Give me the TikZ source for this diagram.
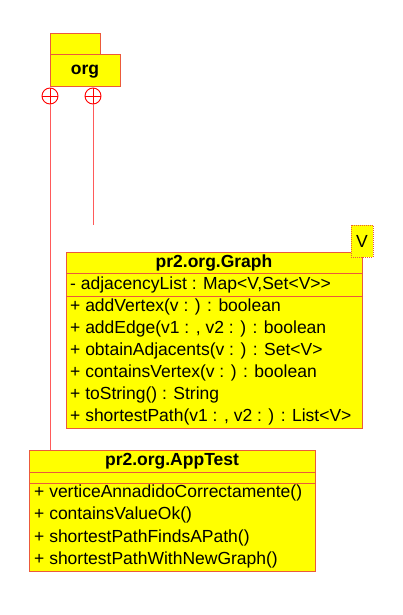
\documentclass[tikz,border=0pt]{standalone}
\usepackage{fontspec}
\setmainfont{Liberation Sans}
\definecolor{umlfill}{RGB}{255,255,0}
\definecolor{umlborder}{RGB}{235,90,60}
\definecolor{umlline}{RGB}{255,90,90}
\tikzset{
  boxline/.style={draw=umlborder, line width=1pt},
  conn/.style={draw=umlline, line width=0.9pt},
  txt/.style={anchor=west, inner sep=0pt, font=\fontsize{17.5}{17.5}\selectfont},
  ttl/.style={inner sep=0pt, font=\fontsize{17.5}{17.5}\selectfont\bfseries},
  plus/.style={draw=red, line width=0.9pt, fill=none, circle, minimum size=16pt, inner sep=0pt}
}
\begin{document}
\begin{tikzpicture}[x=1pt,y=-1pt]
\useasboundingbox (0,0) rectangle (403,615);
% package org
\filldraw[fill=umlfill, boxline] (50,34) rectangle (100,55);
\filldraw[fill=umlfill, boxline] (50,55) rectangle (120,87);
\node[ttl] (org) at (85,72) {org};
% Graph class
\filldraw[fill=umlfill, boxline] (66,252) rectangle (362,428);
\draw[boxline] (66,273) -- (362,273);
\draw[boxline] (66,296) -- (362,296);
\node[ttl] (graph) at (214,263) {pr2.org.Graph};
\node[txt] (g0) at (70,285) {- adjacencyList : Map<V,Set<V>{}>};
\node[txt] (g1) at (70,307) {+ addVertex(v : ) : boolean};
\node[txt] (g2) at (70,329) {+ addEdge(v1 : , v2 : ) : boolean};
\node[txt] (g3) at (70,351) {+ obtainAdjacents(v : ) : Set<V>};
\node[txt] (g4) at (70,373) {+ containsVertex(v : ) : boolean};
\node[txt] (g5) at (70,395) {+ toString() : String};
\node[txt] (g6) at (70,417) {+ shortestPath(v1 : , v2 : ) : List<V>};
% template parameter
\filldraw[fill=umlfill, draw=umlborder, line width=1pt, densely dotted] (351,225) rectangle (373,257);
\node[txt, anchor=center] (tv) at (362,241) {V};
% AppTest class
\filldraw[fill=umlfill, boxline] (29,450) rectangle (315,571);
\draw[boxline] (29,472) -- (315,472);
\draw[boxline] (29,483) -- (315,483);
\node[ttl] (app) at (172,461) {pr2.org.AppTest};
\node[txt] (a1) at (34,493) {+ verticeAnnadidoCorrectamente()};
\node[txt] (a2) at (34,515) {+ containsValueOk()};
\node[txt] (a3) at (34,538) {+ shortestPathFindsAPath()};
\node[txt] (a4) at (34,560) {+ shortestPathWithNewGraph()};
% containment connectors
\node[plus] (c1) at (50,96) {};
\node[plus] (c2) at (93,96) {};
\draw[draw=red, line width=0.9pt] (c1.west) -- (c1.east) (c1.north) -- (c1.south);
\draw[draw=red, line width=0.9pt] (c2.west) -- (c2.east) (c2.north) -- (c2.south);
\coordinate (e2) at (93,225);
\coordinate (e1) at (50,450);
\draw[conn] (c1.south) -- (e1);
\draw[conn] (c2.south) -- (e2);
\end{tikzpicture}
\end{document}
